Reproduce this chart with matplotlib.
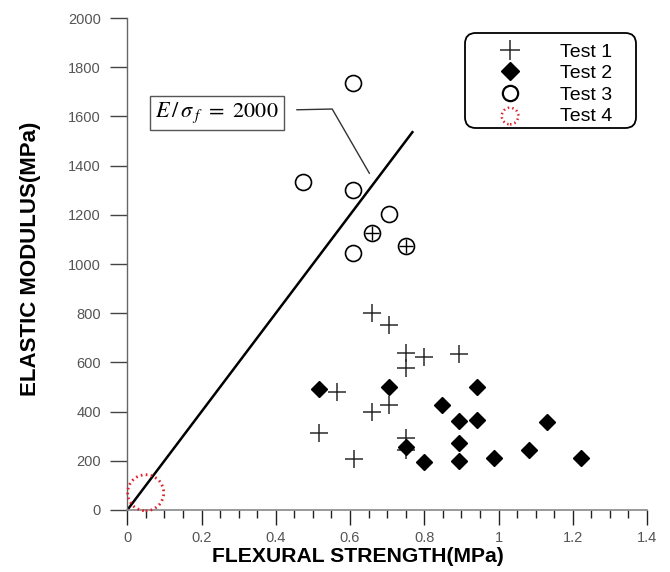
import matplotlib
matplotlib.use("Agg")
import matplotlib.pyplot as plt
from matplotlib.lines import Line2D
from matplotlib.patches import FancyBboxPatch
import numpy as np

plt.rcParams['font.family'] = ['Liberation Sans', 'DejaVu Sans']
plt.rcParams['mathtext.fontset'] = 'stix'

# ---- data ----
test1_x = [0.658, 0.705, 0.752, 0.800, 0.894, 0.752, 0.564, 0.705, 0.658, 0.516, 0.752, 0.752, 0.610]
test1_y = [800, 752, 640, 620, 635, 579, 481, 427, 400, 314, 293, 244, 207]
test1_in_circle_x = [0.658, 0.752]
test1_in_circle_y = [1125, 1074]

test2_x = [0.516, 0.705, 0.941, 0.847, 0.894, 0.941, 0.894, 0.752, 0.799, 0.894, 0.988, 1.082, 1.131, 1.223]
test2_y = [491, 501, 501, 427, 363, 366, 274, 257, 196, 200, 210, 244, 356, 210]

test3_x = [0.609, 0.474, 0.609, 0.705, 0.658, 0.752, 0.609]
test3_y = [1734, 1335, 1301, 1203, 1125, 1074, 1046]

test4_x = [0.0495]
test4_y = [70]

ratio_line_x = [0.0, 0.770]
ratio = 2000
ratio_label = r'$E\,/\,\sigma_{\ f}\ =\ 2000$'
leader_x = [0.457, 0.552, 0.652]
leader_y = [1627, 1630, 1369]
label_pos = (0.242, 1613)

xticks = [0, 0.2, 0.4, 0.6, 0.8, 1.0, 1.2, 1.4]
xtick_labels = ['0', '0.2', '0.4', '0.6', '0.8', '1', '1.2', '1.4']
yticks = list(range(0, 2001, 200))
legend_labels = ['Test 1', 'Test 2', 'Test 3', 'Test 4']

# ---- figure ----
W, H = 670, 572
fig = plt.figure(figsize=(W / 100, H / 100), dpi=100)
ax = fig.add_axes([0.190, 0.1084, 0.7757, 0.8601])

ax.set_xlim(0, 1.4)
ax.set_ylim(0, 2000)

red = '#e0202a'
plus_col = '#2a2a2a'
ax.plot(test1_x, test1_y, linestyle='none', marker='+', ms=13, mew=1.1, color=plus_col)
ax.plot(test1_in_circle_x, test1_in_circle_y, linestyle='none', marker='+', ms=10, mew=1.0, color='black')
ax.plot(test2_x, test2_y, linestyle='none', marker='D', ms=8.5, color='black', mec='black')
ax.plot(test3_x, test3_y, linestyle='none', marker='o', ms=11.5, mfc='none', mec='black', mew=1.2)
ax.scatter(test4_x, test4_y, s=26**2, facecolors='none', edgecolors=red,
           linewidths=2.0, linestyles=(0, (0.6, 1.2)), zorder=3, clip_on=False)

lx = np.array(ratio_line_x)
ax.plot(lx, ratio * lx, color='black', lw=1.8, solid_capstyle='butt')

ax.plot(leader_x, leader_y, color='#333333', lw=1.0)
ax.text(label_pos[0], label_pos[1], ratio_label, fontsize=16, ha='center', va='center',
        bbox=dict(boxstyle='square,pad=0.22', fc='white', ec='#555555', lw=1.0))

# axes styling
for s in ['top', 'right']:
    ax.spines[s].set_visible(False)
ax.spines['left'].set_color('#666666')
ax.spines['bottom'].set_color('#888888')
ax.spines['left'].set_linewidth(1.0)
ax.spines['bottom'].set_linewidth(1.2)

ax.set_xticks(xticks)
ax.set_xticklabels(xtick_labels)
ax.set_xticks(np.arange(0, 1.401, 0.05), minor=True)
ax.set_yticks(yticks)
ax.tick_params(axis='x', which='major', direction='out', length=11, width=1.0, color='#222222',
               labelsize=10.5, labelcolor='#555555', pad=4)
ax.tick_params(axis='x', which='minor', direction='out', length=5.5, width=1.0, color='#222222')
ax.tick_params(axis='y', which='major', direction='out', length=12, width=1.0, color='#444444',
               labelsize=10.5, labelcolor='#555555', pad=7)

ax.set_xlabel('FLEXURAL STRENGTH(MPa)', fontsize=15.2, fontweight='bold')
ax.xaxis.set_label_coords(0.443, -0.076)
ax.set_ylabel('ELASTIC MODULUS(MPa)', fontsize=16, fontweight='bold')
ax.yaxis.set_label_coords(-0.166, 0.51)

# legend frame drawn in pixel coordinates (rounded box)
frame = FancyBboxPatch((465 / W, 1 - 128 / H), (636 - 465) / W, (128 - 33) / H,
                       boxstyle='round,pad=0,rounding_size=0.016', mutation_aspect=W / H,
                       transform=fig.transFigure, fc='white', ec='black', lw=1.3, zorder=5)
fig.add_artist(frame)

h1 = Line2D([], [], linestyle='none', marker='+', ms=14, mew=1.1, color=plus_col)
h2 = Line2D([], [], linestyle='none', marker='D', ms=9, color='black')
h3 = Line2D([], [], linestyle='none', marker='o', ms=11, mfc='none', mec='black', mew=1.6)
h4 = ax.scatter([], [], s=12**2, facecolors='none', edgecolors=red,
                linewidths=1.8, linestyles=(0, (0.6, 1.2)))
leg = fig.legend([h1, h2, h3, h4], legend_labels, loc='upper left',
                 bbox_to_anchor=(490.6 / W, 1 - 43 / H), bbox_transform=fig.transFigure,
                 fontsize=14, frameon=False, handlelength=2.0, handletextpad=1.57,
                 labelspacing=0.2, borderpad=0.0, borderaxespad=0.0, scatterpoints=1)
leg.set_zorder(6)

fig.savefig('out.png', dpi=100)
